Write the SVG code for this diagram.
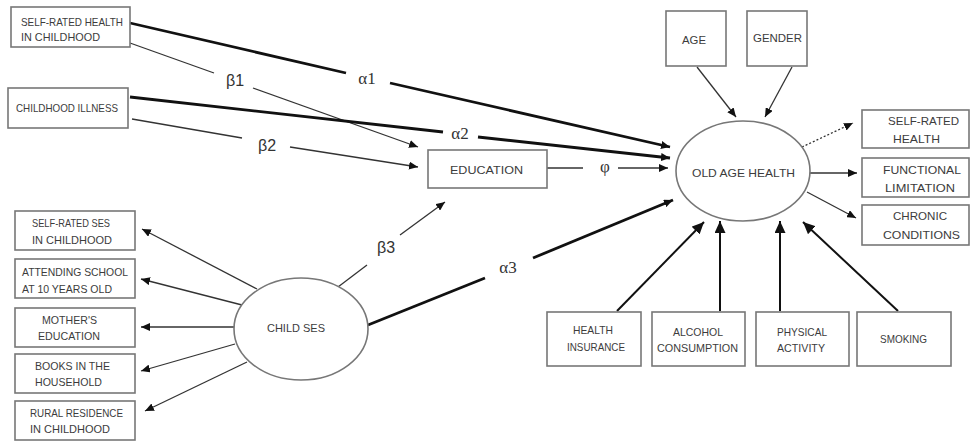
<svg xmlns="http://www.w3.org/2000/svg" width="970" height="441" viewBox="0 0 970 441">
<defs>
<marker id="ah" markerUnits="userSpaceOnUse" markerWidth="10" markerHeight="8" refX="9" refY="4" orient="auto"><path d="M0,0 L9,4 L0,8 Z" fill="#111"/></marker>
<marker id="ahb" markerUnits="userSpaceOnUse" markerWidth="13" markerHeight="11" refX="12" refY="5.5" orient="auto"><path d="M0,0 L12,5.5 L0,11 Z" fill="#111"/></marker>
<style>
.box{fill:#fff;stroke:#777;stroke-width:1.6}
.ell{fill:#fff;stroke:#777;stroke-width:1.6}
.t{font-family:"Liberation Sans",Arial,sans-serif;font-size:10.5px;fill:#3c3c3c;text-anchor:start}
.thin{stroke:#333;stroke-width:1.3;fill:none}
.thick{stroke:#111;stroke-width:2.8;fill:none}
.mid{stroke:#111;stroke-width:2;fill:none}
.ga{font-family:"Liberation Serif","Times New Roman",serif;font-size:17px;fill:#333;text-anchor:middle}
.gb{font-family:"Liberation Sans",Arial,sans-serif;font-size:16px;fill:#333;text-anchor:middle}
</style>
</defs>
<rect width="970" height="441" fill="#fff"/>
<g id="connectors">
<path class="thick" d="M130,23 L346,73"/>
<path class="thick" d="M390,83 L670,147" marker-end="url(#ah)"/>
<path class="thin" d="M130,43 L214,73"/>
<path class="thin" d="M253,88 L418,147" marker-end="url(#ah)"/>
<path class="thick" d="M130,97 L443,132"/>
<path class="thick" d="M478,137 L670,158" marker-end="url(#ah)"/>
<path class="thin" d="M132,119 L242,138"/>
<path class="thin" d="M290,147 L418,167" marker-end="url(#ah)"/>
<path class="thin" d="M547,168 L583,168"/>
<path class="thin" d="M618,168 L668,168" marker-end="url(#ah)"/>
<path class="thin" d="M338,287 L367,265"/>
<path class="thin" d="M400,235 L445,202" marker-end="url(#ah)"/>
<path class="thick" d="M368,325 L485,278"/>
<path class="thick" d="M533,258 L673,200" marker-end="url(#ah)"/>
<path class="thin" d="M697,67 L736,117" marker-end="url(#ah)"/>
<path class="thin" d="M792,67 L765,117" marker-end="url(#ah)"/>
<path class="thin" d="M802,147 L853,123" stroke-dasharray="2,2" marker-end="url(#ah)"/>
<path class="thin" d="M809,173 L857,173" marker-end="url(#ah)"/>
<path class="thin" d="M807,192 L856,218" marker-end="url(#ah)"/>
<path class="mid" d="M617,311 L704,222" marker-end="url(#ahb)"/>
<path class="mid" d="M720,311 L720,221" marker-end="url(#ahb)"/>
<path class="mid" d="M780,311 L780,221" marker-end="url(#ahb)"/>
<path class="mid" d="M898,311 L803,222" marker-end="url(#ahb)"/>
<path class="thin" d="M257,289 L142,229" marker-end="url(#ah)"/>
<path class="thin" d="M242,305 L141,279" marker-end="url(#ah)"/>
<path class="thin" d="M235,327 L141,327" marker-end="url(#ah)"/>
<path class="thin" d="M235,344 L141,371" marker-end="url(#ah)"/>
<path class="thin" d="M247,362 L145,411" marker-end="url(#ah)"/>
</g>
<g id="labels">
<text class="ga" x="367" y="84">α1</text>
<text class="gb" x="235" y="86">β1</text>
<text class="ga" x="460" y="139">α2</text>
<text class="gb" x="267" y="151">β2</text>
<text class="ga" x="605" y="172">φ</text>
<text class="gb" x="386" y="253">β3</text>
<text class="ga" x="508" y="273">α3</text>
</g>
<g id="srh-child"><rect class="box" x="11" y="7" width="119" height="40"/><text class="t" x="21" y="26" textLength="102" lengthAdjust="spacingAndGlyphs">SELF-RATED HEALTH</text><text class="t" x="21" y="41" textLength="79" lengthAdjust="spacingAndGlyphs">IN CHILDHOOD</text></g>
<g id="illness"><rect class="box" x="8" y="88" width="120" height="40"/><text class="t" x="16" y="112" textLength="102" lengthAdjust="spacingAndGlyphs">CHILDHOOD ILLNESS</text></g>
<g id="education"><rect class="box" x="428" y="150" width="119" height="38"/><text class="t" x="450" y="174" textLength="73" lengthAdjust="spacingAndGlyphs">EDUCATION</text></g>
<g id="old-age-health"><ellipse class="ell" cx="743" cy="171" rx="67" ry="50"/><text class="t" x="692" y="177" textLength="103" lengthAdjust="spacingAndGlyphs">OLD AGE HEALTH</text></g>
<g id="age"><rect class="box" x="666" y="11" width="60" height="55"/><text class="t" x="682" y="44" textLength="24" lengthAdjust="spacingAndGlyphs">AGE</text></g>
<g id="gender"><rect class="box" x="747" y="11" width="60" height="55"/><text class="t" x="753" y="42" textLength="49" lengthAdjust="spacingAndGlyphs">GENDER</text></g>
<g id="srh"><rect class="box" x="862" y="110" width="107" height="38"/><text class="t" x="888" y="125" textLength="71" lengthAdjust="spacingAndGlyphs">SELF-RATED</text><text class="t" x="893" y="143" textLength="47" lengthAdjust="spacingAndGlyphs">HEALTH</text></g>
<g id="func"><rect class="box" x="862" y="158" width="107" height="39"/><text class="t" x="883" y="174" textLength="78" lengthAdjust="spacingAndGlyphs">FUNCTIONAL</text><text class="t" x="885" y="192" textLength="70" lengthAdjust="spacingAndGlyphs">LIMITATION</text></g>
<g id="chronic"><rect class="box" x="862" y="205" width="107" height="40"/><text class="t" x="893" y="220" textLength="54" lengthAdjust="spacingAndGlyphs">CHRONIC</text><text class="t" x="883" y="239" textLength="77" lengthAdjust="spacingAndGlyphs">CONDITIONS</text></g>
<g id="insurance"><rect class="box" x="547" y="312" width="94" height="54"/><text class="t" x="573" y="334" textLength="40" lengthAdjust="spacingAndGlyphs">HEALTH</text><text class="t" x="567" y="351" textLength="58" lengthAdjust="spacingAndGlyphs">INSURANCE</text></g>
<g id="alcohol"><rect class="box" x="652" y="312" width="93" height="54"/><text class="t" x="673" y="336" textLength="50" lengthAdjust="spacingAndGlyphs">ALCOHOL</text><text class="t" x="657" y="352" textLength="81" lengthAdjust="spacingAndGlyphs">CONSUMPTION</text></g>
<g id="physical"><rect class="box" x="756" y="312" width="93" height="54"/><text class="t" x="777" y="336" textLength="50" lengthAdjust="spacingAndGlyphs">PHYSICAL</text><text class="t" x="777" y="352" textLength="48" lengthAdjust="spacingAndGlyphs">ACTIVITY</text></g>
<g id="smoking"><rect class="box" x="857" y="312" width="94" height="54"/><text class="t" x="880" y="343" textLength="47" lengthAdjust="spacingAndGlyphs">SMOKING</text></g>
<g id="child-ses"><ellipse class="ell" cx="301" cy="329" rx="67" ry="51"/><text class="t" x="267" y="332" textLength="58" lengthAdjust="spacingAndGlyphs">CHILD SES</text></g>
<g id="ses-self"><rect class="box" x="15" y="211" width="120" height="39"/><text class="t" x="32" y="227" textLength="78" lengthAdjust="spacingAndGlyphs">SELF-RATED SES</text><text class="t" x="32" y="244" textLength="80" lengthAdjust="spacingAndGlyphs">IN CHILDHOOD</text></g>
<g id="school"><rect class="box" x="15" y="259" width="120" height="39"/><text class="t" x="22" y="276" textLength="106" lengthAdjust="spacingAndGlyphs">ATTENDING SCHOOL</text><text class="t" x="22" y="293" textLength="90" lengthAdjust="spacingAndGlyphs">AT 10 YEARS OLD</text></g>
<g id="mother"><rect class="box" x="15" y="308" width="120" height="39"/><text class="t" x="42" y="324" textLength="55" lengthAdjust="spacingAndGlyphs">MOTHER'S</text><text class="t" x="38" y="340" textLength="62" lengthAdjust="spacingAndGlyphs">EDUCATION</text></g>
<g id="books"><rect class="box" x="15" y="354" width="120" height="39"/><text class="t" x="35" y="370" textLength="75" lengthAdjust="spacingAndGlyphs">BOOKS IN THE</text><text class="t" x="35" y="386" textLength="67" lengthAdjust="spacingAndGlyphs">HOUSEHOLD</text></g>
<g id="rural"><rect class="box" x="15" y="401" width="120" height="39"/><text class="t" x="30" y="417" textLength="93" lengthAdjust="spacingAndGlyphs">RURAL RESIDENCE</text><text class="t" x="30" y="433" textLength="80" lengthAdjust="spacingAndGlyphs">IN CHILDHOOD</text></g>
</svg>
